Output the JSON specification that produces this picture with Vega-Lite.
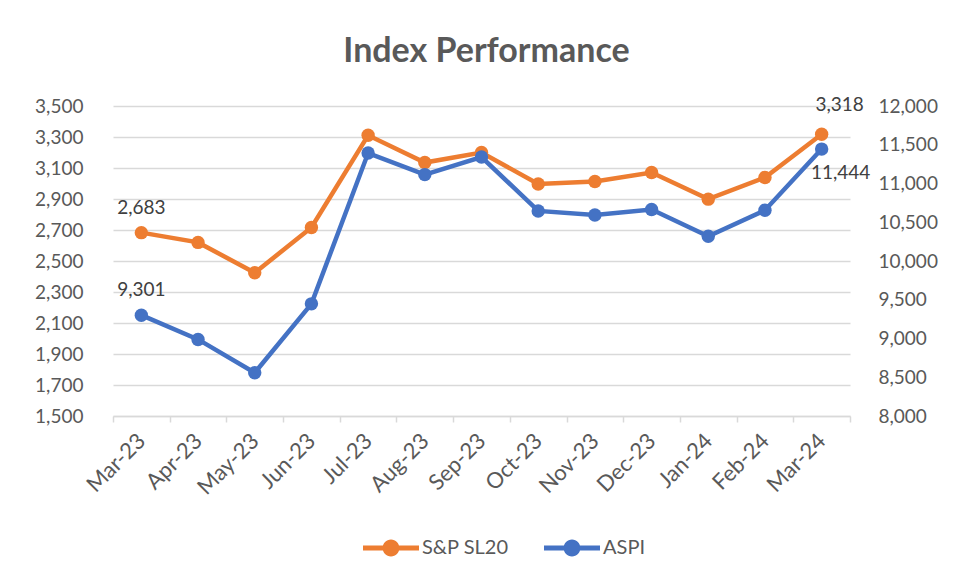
{
  "$schema": "https://vega.github.io/schema/vega-lite/v6.json",
  "width": 737,
  "height": 310,
  "autosize": {"type": "none"},
  "padding": {"left": 113, "top": 106, "right": 105, "bottom": 162},
  "background": "#ffffff",
  "title": {"text": "Index Performance", "fontSize": 34, "fontWeight": "bold", "color": "#595959", "offset": 27, "anchor": "middle", "dx": 5, "font": "Lato"},
  "data": {"values": [
    {"month": "Mar-23", "series": "S&P SL20", "value": 2683},
    {"month": "Apr-23", "series": "S&P SL20", "value": 2620},
    {"month": "May-23", "series": "S&P SL20", "value": 2424},
    {"month": "Jun-23", "series": "S&P SL20", "value": 2716},
    {"month": "Jul-23", "series": "S&P SL20", "value": 3311},
    {"month": "Aug-23", "series": "S&P SL20", "value": 3135},
    {"month": "Sep-23", "series": "S&P SL20", "value": 3200},
    {"month": "Oct-23", "series": "S&P SL20", "value": 2997},
    {"month": "Nov-23", "series": "S&P SL20", "value": 3013},
    {"month": "Dec-23", "series": "S&P SL20", "value": 3071},
    {"month": "Jan-24", "series": "S&P SL20", "value": 2899},
    {"month": "Feb-24", "series": "S&P SL20", "value": 3039},
    {"month": "Mar-24", "series": "S&P SL20", "value": 3318},
    {"month": "Mar-23", "series": "ASPI", "value": 9301},
    {"month": "Apr-23", "series": "ASPI", "value": 8988},
    {"month": "May-23", "series": "ASPI", "value": 8558},
    {"month": "Jun-23", "series": "ASPI", "value": 9447},
    {"month": "Jul-23", "series": "ASPI", "value": 11393},
    {"month": "Aug-23", "series": "ASPI", "value": 11115},
    {"month": "Sep-23", "series": "ASPI", "value": 11342},
    {"month": "Oct-23", "series": "ASPI", "value": 10646},
    {"month": "Nov-23", "series": "ASPI", "value": 10594},
    {"month": "Dec-23", "series": "ASPI", "value": 10664},
    {"month": "Jan-24", "series": "ASPI", "value": 10320},
    {"month": "Feb-24", "series": "ASPI", "value": 10655},
    {"month": "Mar-24", "series": "ASPI", "value": 11444}
  ]},
  "encoding": {
    "x": {
      "field": "month", "type": "ordinal",
      "scale": {"type": "band", "paddingInner": 0, "paddingOuter": 0,
        "domain": ["Mar-23","Apr-23","May-23","Jun-23","Jul-23","Aug-23","Sep-23","Oct-23","Nov-23","Dec-23","Jan-24","Feb-24","Mar-24"]},
      "axis": {"title": null, "labelAngle": -45, "labelAlign": "right", "labelBaseline": "middle", "labelFontSize": 22, "labelColor": "#595959", "labelFont": "Lato", "labelPadding": 15, "domainColor": "#d9d9d9", "domainWidth": 1.5, "tickColor": "#d9d9d9", "tickSize": 6, "tickWidth": 1.5, "tickBand": "extent", "grid": false}
    },
    "color": {
      "field": "series", "type": "nominal",
      "scale": {"domain": ["S&P SL20", "ASPI"], "range": ["#ED7D31", "#4472C4"]},
      "legend": {"title": null, "orient": "none", "legendX": 250, "legendY": 414, "direction": "horizontal", "labelFontSize": 20, "labelColor": "#595959", "labelFont": "Lato", "symbolType": "M-1,-0.09L1,-0.09L1,0.09L-1,0.09Z M0.3,0A0.3,0.3,0,1,1,-0.3,0A0.3,0.3,0,1,1,0.3,0Z", "symbolSize": 3136, "symbolStrokeWidth": 0, "symbolOpacity": 1, "labelOffset": 3, "columnPadding": 35}
    }
  },
  "layer": [
    {
      "transform": [{"filter": "datum.series === 'S&P SL20'"}],
      "encoding": {
        "y": {"field": "value", "type": "quantitative",
          "scale": {"domain": [1500, 3500], "nice": false, "zero": false},
          "axis": {"title": null, "orient": "left", "values": [1500,1700,1900,2100,2300,2500,2700,2900,3100,3300,3500], "format": ",.0f", "labelFontSize": 19, "labelColor": "#595959", "labelFont": "Lato", "labelPadding": 30, "domain": false, "ticks": false, "grid": true, "gridColor": "#d9d9d9", "gridWidth": 1.5}}
      },
      "layer": [
        {"mark": {"type": "line", "strokeWidth": 4.5}},
        {"mark": {"type": "point", "filled": true, "size": 180, "opacity": 1}},
        {"transform": [{"filter": "datum.month === 'Mar-23'"}],
         "mark": {"type": "text", "dy": -25, "fontSize": 19, "font": "Lato", "color": "#404040"},
         "encoding": {"text": {"field": "value", "type": "quantitative", "format": ",.0f"}, "color": {"value": "#404040"}}},
        {"transform": [{"filter": "datum.month === 'Mar-24'"}],
         "mark": {"type": "text", "dy": -29, "dx": 18, "fontSize": 19, "font": "Lato", "color": "#404040"},
         "encoding": {"text": {"field": "value", "type": "quantitative", "format": ",.0f"}, "color": {"value": "#404040"}}}
      ]
    },
    {
      "transform": [{"filter": "datum.series === 'ASPI'"}],
      "encoding": {
        "y": {"field": "value", "type": "quantitative",
          "scale": {"domain": [8000, 12000], "nice": false, "zero": false},
          "axis": {"title": null, "orient": "right", "values": [8000,8500,9000,9500,10000,10500,11000,11500,12000], "format": ",.0f", "labelFontSize": 19, "labelColor": "#595959", "labelFont": "Lato", "labelPadding": 28, "domain": false, "ticks": false, "grid": false}}
      },
      "layer": [
        {"mark": {"type": "line", "strokeWidth": 4.5}},
        {"mark": {"type": "point", "filled": true, "size": 180, "opacity": 1}},
        {"transform": [{"filter": "datum.month === 'Mar-23'"}],
         "mark": {"type": "text", "dy": -25, "fontSize": 19, "font": "Lato", "color": "#404040"},
         "encoding": {"text": {"field": "value", "type": "quantitative", "format": ",.0f"}, "color": {"value": "#404040"}}},
        {"transform": [{"filter": "datum.month === 'Mar-24'"}],
         "mark": {"type": "text", "dy": 24, "dx": 19, "fontSize": 19, "font": "Lato", "color": "#404040"},
         "encoding": {"text": {"field": "value", "type": "quantitative", "format": ",.0f"}, "color": {"value": "#404040"}}}
      ]
    }
  ],
  "resolve": {"scale": {"y": "independent"}, "axis": {"y": "independent"}},
  "config": {"view": {"stroke": null}, "font": "Lato"}
}
